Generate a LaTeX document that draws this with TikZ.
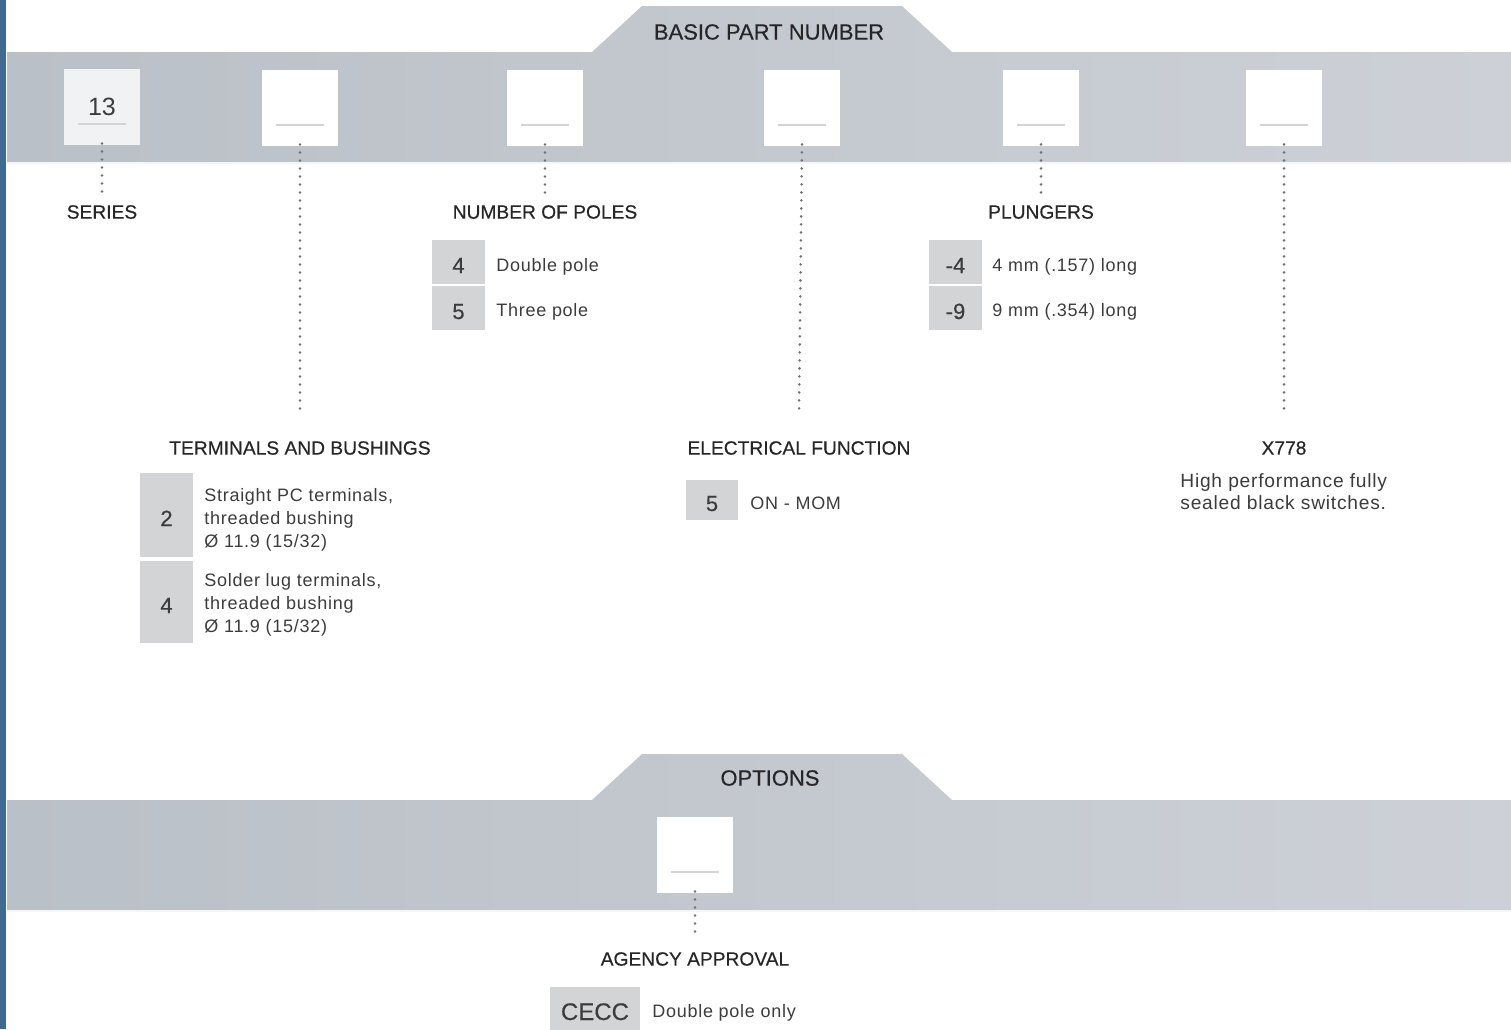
\documentclass[tikz,border=0pt]{standalone}
\usepackage{fontspec}
\setmainfont{Liberation Sans}
\newfontfamily\medfont[FakeBold=0.4]{Liberation Sans}
\newfontfamily\descfont[LetterSpace=4]{Liberation Sans}
\usetikzlibrary{positioning}

\definecolor{stripblue}{HTML}{3F6A91}
\definecolor{bandleft}{HTML}{BAC0C7}
\definecolor{bandmid}{HTML}{D5D8DD}
\definecolor{bandright}{HTML}{CDD1D7}
\definecolor{codegrey}{HTML}{D3D4D6}
\definecolor{slotoff}{HTML}{F1F2F4}
\definecolor{txtgrey}{HTML}{3C3C3C}
\definecolor{dotgrey}{HTML}{6E6E70}

\begin{document}
\begin{tikzpicture}[x=0.5pt, y=-0.5pt]
\tikzset{
    slot/.style= {fill=white, minimum width=38pt, minimum height=38pt, inner sep=0pt, font=\fontsize{12.5}{14}\selectfont, text=txtgrey},
    code/.style= {fill=codegrey, minimum width=26.5pt, minimum height=22pt, inner sep=0pt, text height=11pt, text depth=0pt, font=\medfont\fontsize{11}{13}\selectfont, text=txtgrey},
    desc/.style= {anchor=west, inner sep=0pt, align=left, font=\descfont\fontsize{9}{11.5}\selectfont, text=txtgrey},
    head/.style= {inner sep=0pt, font=\medfont\fontsize{9.6}{11}\selectfont, text=black!85},
    tab/.style= {inner sep=0pt, font=\medfont\fontsize{11}{13}\selectfont, text=black!85},
    lead/.style= {dotgrey, line width=1.4pt, line cap=round, dash pattern=on 0pt off 4pt},
    underl/.style= {black!17, line width=1.3pt},
    band/.style= {left color=bandleft, middle color=bandmid, right color=bandright},
}
\useasboundingbox (0,0) rectangle (1511,1029);

% side strip and metal bands
\fill[stripblue] (0,0) rectangle (6,1029);
\shade[band] (7,163) -- (7,52) -- (592,52) -- (642,6) -- (902,6) -- (952,52) -- (1511,52) -- (1511,163) -- cycle;
\shade[band] (7,911) -- (7,800) -- (592,800) -- (642,754) -- (902,754) -- (952,800) -- (1511,800) -- (1511,911) -- cycle;
\draw[white!85!bandleft, line width=0.8pt] (7,163) -- (1511,163);
\draw[white!85!bandleft, line width=0.8pt] (7,911) -- (1511,911);

\node[tab] (basic) at (769,32) {BASIC PART NUMBER};
\node[tab] (options) at (770,778) {OPTIONS};

% part number slots
\node[slot, fill=slotoff] (ser) at (102,107) {13};
\foreach \n/\x in {term/300, pole/545, elec/802, plung/1041, xopt/1284}
    \node[slot] (\n) at (\x,108) {};
\node[slot] (agency) at (695,855) {};
\foreach \n in {ser, term, pole, elec, plung, xopt, agency}
    \draw[underl] ([xshift=-12pt, yshift=-8.5pt]\n.center) -- ++(48,0);

% headings
\node[head] (series) at (102,212) {SERIES};
\node[head] (poles) at (545,212) {NUMBER OF POLES};
\node[head] (plungers) at (1041,212) {PLUNGERS};
\node[head] (terminals) at (300,448) {TERMINALS AND BUSHINGS};
\node[head] (function) at (799,448) {ELECTRICAL FUNCTION};
\node[head] (x778) at (1284,448) {X778};
\node[head] (approval) at (695,959) {AGENCY APPROVAL};

\draw[lead] ([yshift=1pt]ser.south) -- ([yshift=6pt]series.north);
\draw[lead] ([yshift=1pt]term.south) -- ([yshift=14pt]terminals.north);
\draw[lead] ([yshift=1pt]pole.south) -- ([yshift=6pt]poles.north);
\draw[lead] ([yshift=1pt]elec.south) -- ([yshift=14pt]function.north);
\draw[lead] ([yshift=1pt]plung.south) -- ([yshift=6pt]plungers.north);
\draw[lead] ([yshift=1pt]xopt.south) -- ([yshift=14pt]x778.north);
\draw[lead] ([yshift=1pt]agency.south) -- ([yshift=8pt]approval.north);

% number of poles
\node[code] (p4) at (458.5,262) {4};
\node[code] (p5) at (458.5,308) {5};
\node[desc] (p4d) at (496,267) {Double pole};
\node[desc] (p5d) at (496,312) {Three pole};

% plungers
\node[code] (pl4) at (955.5,262) {-4};
\node[code] (pl9) at (955.5,308) {-9};
\node[desc] (pl4d) at (992,267) {4 mm (.157) long};
\node[desc] (pl9d) at (992,312) {9 mm (.354) long};

% terminals and bushings
\node[code, minimum height=42pt] (t2) at (166.5,515) {2};
\node[code, minimum height=41pt] (t4) at (166.5,602) {4};
\node[desc] (t2d) at (204,520) {Straight PC terminals,\\threaded bushing\\Ø 11.9 (15/32)};
\node[desc] (t4d) at (204,605) {Solder lug terminals,\\threaded bushing\\Ø 11.9 (15/32)};

% electrical function
\node[code, minimum width=26pt, minimum height=20pt] (e5) at (712,500) {5};
\node[desc] (e5d) at (750,503) {ON - MOM};

% x778
\node[desc, font=\descfont\fontsize{9.6}{11}\selectfont] (x778d) at (1180,492) {High performance fully\\sealed black switches.};

% agency approval
\node[code, minimum width=45pt, minimum height=21.5pt, text height=12pt, font=\medfont\fontsize{12}{14}\selectfont] (cecc) at (595,1008) {CECC};
\node[desc] (ceccd) at (652,1013) {Double pole only};
\end{tikzpicture}
\end{document}
